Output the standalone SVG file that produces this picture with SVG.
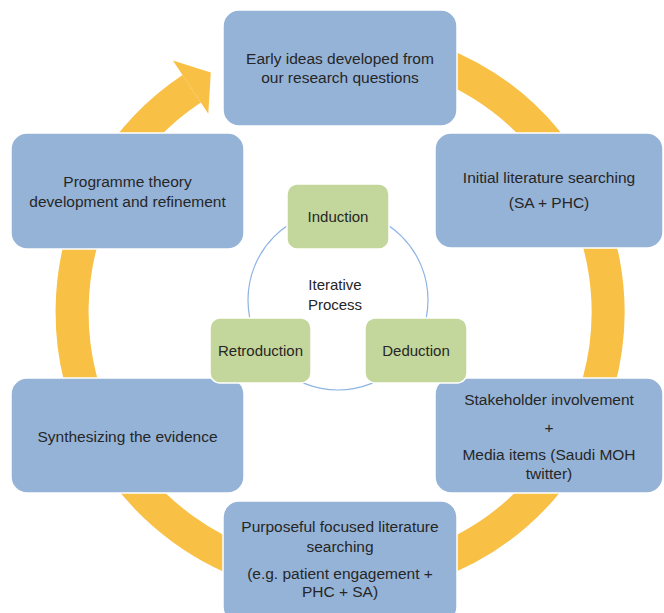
<svg xmlns="http://www.w3.org/2000/svg" width="664" height="613" viewBox="0 0 664 613">
  <style>
    .blue { fill: #95B3D7; stroke: #FFFFFF; stroke-width: 1.5; }
    .green { fill: #C3D69B; stroke: #FFFFFF; stroke-width: 1.5; }
    .t { font-family: "Liberation Sans", Arial, sans-serif; font-size: 15.5px; fill: #262626; text-anchor: middle; }
    .g { font-family: "Liberation Sans", Arial, sans-serif; font-size: 15px; fill: #262626; text-anchor: middle; }
  </style>
  <rect width="664" height="613" fill="#FFFFFF"/>
  <g id="connectors">
    <path d="M 316.6 45.0 A 268 268 0 1 1 191.7 88.8" fill="none" stroke="#F8C045" stroke-width="33"/>
    <polygon points="172.9,60.5 210.8,72.5 208.3,113.8" fill="#F8C045"/>
    <circle cx="338" cy="300" r="90" fill="none" stroke="#8EB4E3" stroke-width="1.2"/>
  </g>
  <g id="node-early">
    <rect class="blue" x="223" y="10" width="234" height="116" rx="16"/>
    <text class="t" x="340" y="64">Early ideas developed from</text>
    <text class="t" x="340" y="83">our research questions</text>
  </g>
  <g id="node-initial">
    <rect class="blue" x="435" y="133" width="228" height="115" rx="16"/>
    <text class="t" x="549" y="183">Initial literature searching</text>
    <text class="t" x="549" y="208">(SA + PHC)</text>
  </g>
  <g id="node-stakeholder">
    <rect class="blue" x="435" y="378" width="228" height="115" rx="16"/>
    <text class="t" x="549" y="405">Stakeholder involvement</text>
    <text class="t" x="549" y="433">+</text>
    <text class="t" x="549" y="460">Media items (Saudi MOH</text>
    <text class="t" x="549" y="479">twitter)</text>
  </g>
  <g id="node-purposeful">
    <rect class="blue" x="223" y="501" width="234" height="122" rx="16"/>
    <text class="t" x="340" y="532">Purposeful focused literature</text>
    <text class="t" x="340" y="552">searching</text>
    <text class="t" x="340" y="579">(e.g. patient engagement +</text>
    <text class="t" x="340" y="597">PHC + SA)</text>
  </g>
  <g id="node-synthesizing">
    <rect class="blue" x="11" y="378" width="233" height="115" rx="16"/>
    <text class="t" x="127.5" y="442">Synthesizing the evidence</text>
  </g>
  <g id="node-programme">
    <rect class="blue" x="11" y="133" width="233" height="116" rx="16"/>
    <text class="t" x="127.5" y="187">Programme theory</text>
    <text class="t" x="127.5" y="207">development and refinement</text>
  </g>
  <g id="node-iterative">
    <text class="g" x="335" y="290">Iterative</text>
    <text class="g" x="335" y="310">Process</text>
  </g>
  <g id="node-induction">
    <rect class="green" x="287" y="184" width="102" height="65" rx="10"/>
    <text class="g" x="338" y="222">Induction</text>
  </g>
  <g id="node-retroduction">
    <rect class="green" x="210" y="318" width="101" height="65" rx="10"/>
    <text class="g" x="260.5" y="356">Retroduction</text>
  </g>
  <g id="node-deduction">
    <rect class="green" x="365" y="318" width="102" height="65" rx="10"/>
    <text class="g" x="416" y="356">Deduction</text>
  </g>
</svg>
